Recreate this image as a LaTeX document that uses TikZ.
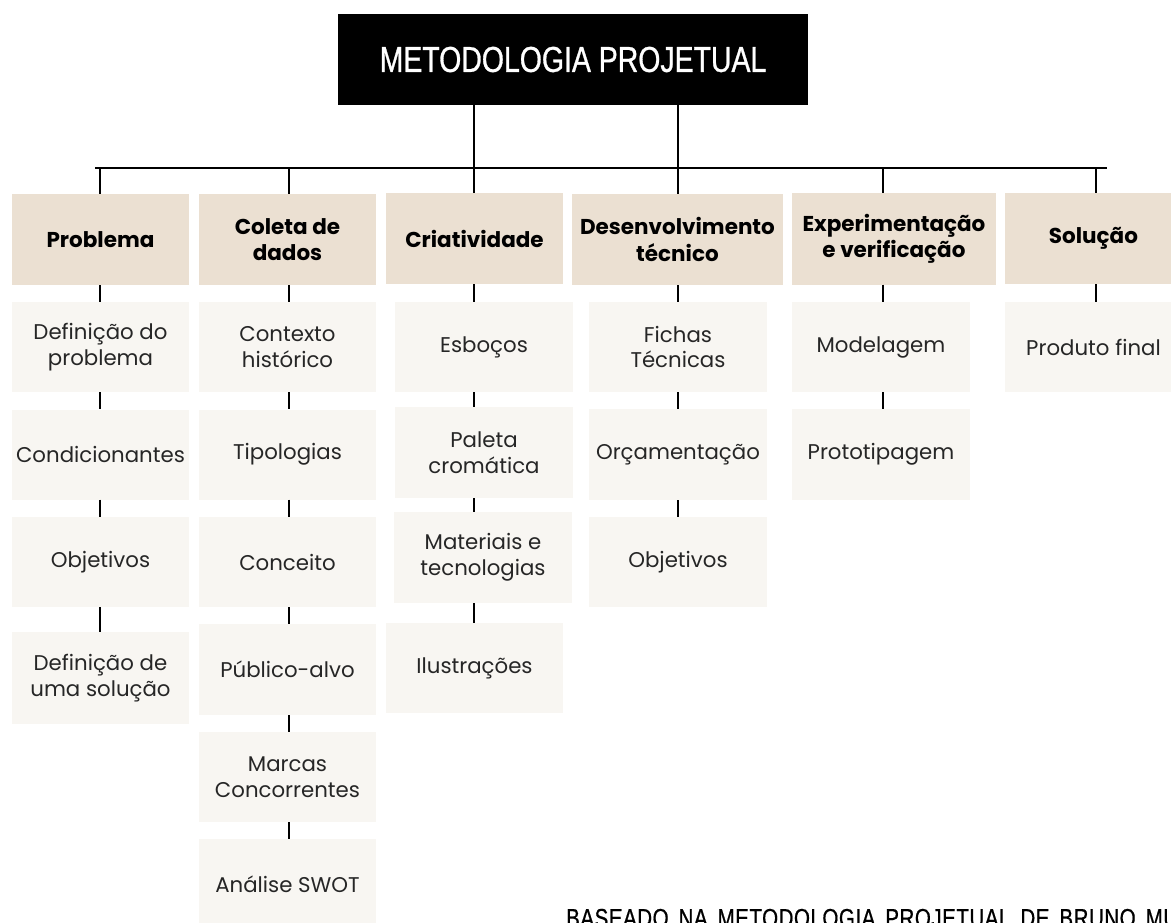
\documentclass[tikz,border=0pt]{standalone}
\usepackage{fontspec}
\setmainfont{Poppins}
\newfontfamily\condfont[FakeStretch=0.79,FakeBold=0.8]{Liberation Sans}
\newfontfamily\footfont[FakeStretch=0.79,FakeBold=0.6,LetterSpace=2,WordSpace=1.6]{Liberation Sans}
\definecolor{headfill}{RGB}{235,224,210}
\definecolor{subfill}{RGB}{248,246,242}
\definecolor{subtext}{RGB}{38,38,38}
\begin{document}
\begin{tikzpicture}[x=1pt,y=-1pt,
  headbox/.style={fill=headfill, draw=none, inner sep=0pt, align=center,
    font=\bfseries\fontsize{21.5}{26.5}\selectfont, text=black, minimum height=91pt},
  subbox/.style={fill=subfill, draw=none, inner sep=0pt, align=center,
    font=\fontsize{21.3}{25.5}\selectfont, text=subtext, minimum height=90pt, minimum width=178pt},
  titlebox/.style={fill=black, draw=none, inner sep=0pt, text=white,
    font=\condfont\fontsize{36}{40}\selectfont},
  conn/.style={line width=2pt, draw=black}]
\useasboundingbox (0,0) rectangle (1171,923);
\clip (0,0) rectangle (1171,923);
\fill[white] (0,0) rectangle (1171,923);

% title
\node[titlebox, minimum width=470pt, minimum height=91pt] (title) at (573,59.5) {\raisebox{-1.5pt}{METODOLOGIA PROJETUAL}};

% coordinates on the bar
\coordinate (barL) at (95,168);
\coordinate (barR) at (1107,168);
\coordinate (c1) at (100,168);
\coordinate (c2) at (289,168);
\coordinate (c3) at (474,168);
\coordinate (c4) at (677.5,168);
\coordinate (c5) at (883,168);
\coordinate (c6) at (1096,168);

% headers
\node[headbox, minimum width=177pt] (h1) at (100.5,239.5) {Problema};
\node[headbox, minimum width=177pt] (h2) at (287.5,239.5) {Coleta de\\dados};
\node[headbox, minimum width=177pt] (h3) at (474.5,238.5) {Criatividade};
\node[headbox, minimum width=211pt] (h4) at (677.5,239.5) {Desenvolvimento\\técnico};
\node[headbox, minimum width=204pt] (h5) at (894,239) {Experimentação\\e verificação};
\node[headbox, minimum width=177pt] (h6) at (1093.5,238.5) {Solução};

% column 1
\node[subbox, minimum width=177pt] (p1a) at (100.5,347) {Definição do\\problema};
\node[subbox, minimum width=177pt] (p1b) at (100.5,454.5) {Condicionantes};
\node[subbox, minimum width=177pt] (p1c) at (100.5,562) {Objetivos};
\node[subbox, minimum width=177pt, minimum height=92pt] (p1d) at (100.5,678) {Definição de\\uma solução};

% column 2
\node[subbox, minimum width=177pt] (p2a) at (287.5,347) {Contexto\\histórico};
\node[subbox, minimum width=177pt] (p2b) at (287.5,454.5) {Tipologias};
\node[subbox, minimum width=177pt] (p2c) at (287.5,562) {Conceito};
\node[subbox, minimum width=177pt, minimum height=91pt] (p2d) at (287.5,669.5) {Público-alvo};
\node[subbox, minimum width=177pt] (p2e) at (287.5,777) {Marcas\\Concorrentes};
\node[subbox, minimum width=177pt, minimum height=91pt] (p2f) at (287.5,884.5) {Análise SWOT};

% column 3
\node[subbox] (p3a) at (484,347) {Esboços};
\node[subbox, minimum height=91pt] (p3b) at (484,452.5) {Paleta\\cromática};
\node[subbox, minimum height=91pt] (p3c) at (483,557.5) {Materiais e\\tecnologias};
\node[subbox, minimum width=177pt] (p3d) at (474.5,668) {Ilustrações};

% column 4
\node[subbox] (p4a) at (678,347) {Fichas\\Técnicas};
\node[subbox, minimum height=91pt] (p4b) at (678,454.5) {Orçamentação};
\node[subbox] (p4c) at (678,562) {Objetivos};

% column 5
\node[subbox] (p5a) at (881,347) {Modelagem};
\node[subbox, minimum height=91pt] (p5b) at (881,454.5) {Prototipagem};

% column 6
\node[subbox, minimum width=177pt] (p6a) at (1093.5,347) {Produto final};

% connectors
\draw[conn] (barL) -- (barR);
\draw[conn] (title.south -| c3) -- (c3);
\draw[conn] (title.south -| c4) -- (c4);
\foreach \c/\h in {c1/h1,c2/h2,c3/h3,c4/h4,c5/h5,c6/h6}
  \draw[conn] (\c) -- (\h.north -| \c);
\foreach \c/\a/\b in {c1/h1/p1a,c1/p1a/p1b,c1/p1b/p1c,c1/p1c/p1d,
    c2/h2/p2a,c2/p2a/p2b,c2/p2b/p2c,c2/p2c/p2d,c2/p2d/p2e,c2/p2e/p2f,
    c3/h3/p3a,c3/p3a/p3b,c3/p3b/p3c,c3/p3c/p3d,
    c4/h4/p4a,c4/p4a/p4b,c4/p4b/p4c,
    c5/h5/p5a,c5/p5a/p5b,
    c6/h6/p6a}
  \draw[conn] (\a.south -| \c) -- (\b.north -| \c);

% footnote
\node[anchor=base west, inner sep=0pt, font=\footfont\fontsize{26}{28}\selectfont, text=black] (foot) at (566,927) {BASEADO NA METODOLOGIA PROJETUAL DE BRUNO MUNARI};
\end{tikzpicture}
\end{document}
